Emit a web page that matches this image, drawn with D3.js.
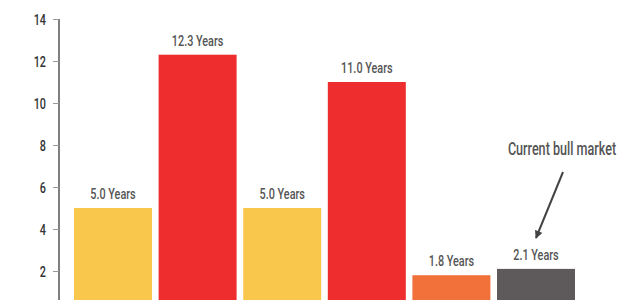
<!DOCTYPE html>
<html><head><meta charset="utf-8">
<script src="https://cdn.jsdelivr.net/npm/d3@7"></script>
<style>
html,body{margin:0;padding:0;background:#fff;overflow:hidden;}
text{font-family:"Roboto",sans-serif;font-weight:500;}
</style></head>
<body>
<svg id="chart" width="640" height="300"></svg>
<script>
const categories = ["Bull 1","Bear 1","Bull 2","Bear 2","Bull 3","Current"];
const values = [5.0, 12.3, 5.0, 11.0, 1.8, 2.1];
const labels = ["5.0 Years","12.3 Years","5.0 Years","11.0 Years","1.8 Years","2.1 Years"];
const colors = ["#F9C74C","#EE2D2E","#F9C74C","#EE2D2E","#F2703A","#5E5A5B"];
const yTicks = [2,4,6,8,10,12,14];
const annotation = "Current bull market";

const SX = 0.7;
const svg = d3.select("#chart");
const y = d3.scaleLinear().domain([0,14]).range([313,19]);
const x = d3.scaleBand().domain(categories).range([74,575]).paddingInner(0.078).paddingOuter(0);

// axis
const axis = d3.axisLeft(y).tickValues(yTicks).tickSize(6).tickSizeOuter(0).tickPadding(6);
const g = svg.append("g").attr("transform","translate(59,0)").call(axis);
g.select(".domain").attr("stroke","#555").attr("stroke-width",1.5).attr("d","M0,19V300");
g.selectAll(".tick line").attr("stroke","#999");
g.selectAll(".tick text").attr("fill","#333").attr("font-size",15.5)
  .attr("font-family","Roboto,sans-serif").attr("font-weight",500)
  .attr("x",null).attr("dy",null)
  .attr("transform",`translate(-13,5.5) scale(${SX},1)`);

// bars
svg.selectAll("rect.bar").data(categories).enter().append("rect")
  .attr("class","bar")
  .attr("x",d=>x(d)).attr("width",x.bandwidth())
  .attr("y",(d,i)=>y(values[i])).attr("height",(d,i)=>y(0)-y(values[i]))
  .attr("fill",(d,i)=>colors[i]);

// value labels
svg.selectAll("text.lbl").data(categories).enter().append("text")
  .attr("class","lbl")
  .attr("transform",(d,i)=>`translate(${x(d)+x.bandwidth()/2},${y(values[i])-9}) scale(${SX},1)`)
  .attr("text-anchor","middle").attr("fill","#555").attr("font-size",15.5)
  .text((d,i)=>labels[i]);

// annotation
svg.append("text").attr("transform",`translate(562,155) scale(${SX},1)`).attr("text-anchor","middle")
  .attr("fill","#555").attr("font-size",18).text(annotation);

svg.append("defs").append("marker").attr("id","ah")
  .attr("viewBox","0 0 10 10").attr("refX",9).attr("refY",5)
  .attr("markerWidth",4).attr("markerHeight",4).attr("orient","auto")
  .append("path").attr("d","M0,0L10,5L0,10Z").attr("fill","#444");
svg.append("line").attr("x1",563).attr("y1",172).attr("x2",536).attr("y2",238)
  .attr("stroke","#444").attr("stroke-width",2).attr("marker-end","url(#ah)");
</script>
</body></html>
